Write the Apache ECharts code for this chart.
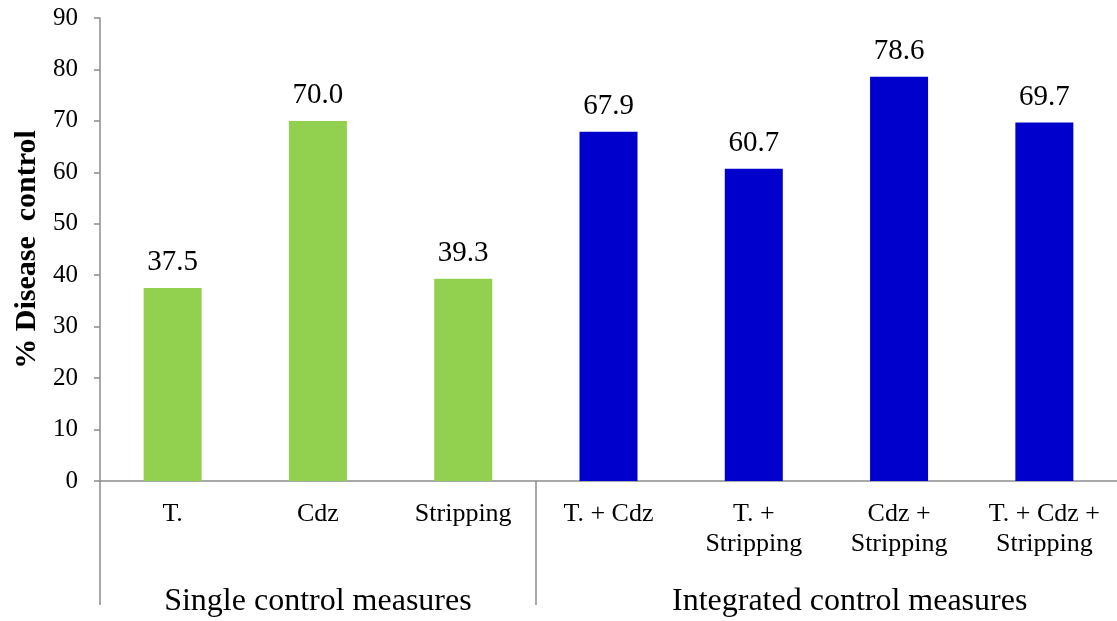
<!DOCTYPE html>
<html>
<head>
<meta charset="utf-8">
<script src="https://cdn.jsdelivr.net/npm/echarts@6/dist/echarts.min.js"></script>
<style>
  html, body { margin: 0; padding: 0; background: #ffffff; }
  #chart { width: 1117px; height: 621px; }
</style>
</head>
<body>
<div id="chart"></div>
<script>
// Treatments, grouped into single and integrated measures
const categories = ['T.', 'Cdz', 'Stripping', 'T. + Cdz', 'T. +\nStripping', 'Cdz +\nStripping', 'T. + Cdz +\nStripping'];
const diseaseControl = [37.5, 70.0, 39.3, 67.9, 60.7, 78.6, 69.7];
const groupNames = ['Single control measures', 'Integrated control measures'];
const groupSizes = [3, 4];
const yTicks = [0, 10, 20, 30, 40, 50, 60, 70, 80, 90];

const groupColors = ['#92D050', '#0000CC'];
const axisGrey = '#8c8c8c';
const font = '"Liberation Serif", "DejaVu Serif", serif';

// group boundaries and centres on a 0..N value scale aligned with the categories
const boundaries = [0];
groupSizes.forEach(n => boundaries.push(boundaries[boundaries.length - 1] + n));
const centres = groupSizes.map((n, i) => boundaries[i] + n / 2);
centres[1] += 0.16;
const groupOf = idx => { let g = 0; while (idx >= boundaries[g + 1]) g++; return g; };

const chart = echarts.init(document.getElementById('chart'), null, { renderer: 'canvas' });
chart.setOption({
  animation: false,
  textStyle: { fontFamily: font },
  grid: { left: 100, right: 0, top: 18, bottom: 140, containLabel: false },
  xAxis: [
    {
      type: 'category',
      data: categories,
      axisLine: { lineStyle: { color: axisGrey, width: 1.5 } },
      axisTick: { show: false },
      axisLabel: { interval: 0, color: '#000', fontSize: 26, fontFamily: font, margin: 18, lineHeight: 30 }
    },
    {
      type: 'value',
      min: 0,
      max: categories.length,
      position: 'bottom',
      axisLine: { show: false },
      splitLine: { show: false },
      axisTick: { show: true, customValues: boundaries.slice(0, -1), length: 124, inside: false,
                  lineStyle: { color: axisGrey, width: 1.5 } },
      axisLabel: {
        customValues: centres,
        formatter: v => { const i = centres.findIndex(c => Math.abs(c - v) < 1e-6); return i >= 0 ? groupNames[i] : ''; },
        color: '#000', fontSize: 32, fontFamily: font, margin: 105
      }
    }
  ],
  yAxis: {
    type: 'value',
    min: 0,
    max: 90,
    interval: 10,
    name: '% Disease  control',
    nameLocation: 'middle',
    nameGap: 56,
    nameRotate: 90,
    nameTextStyle: { color: '#000', fontSize: 30, fontWeight: 'bold', fontFamily: font },
    axisLine: { show: true, lineStyle: { color: axisGrey, width: 1.5 } },
    axisTick: { show: true, length: 6, lineStyle: { color: axisGrey, width: 1.5 } },
    splitLine: { show: false },
    axisLabel: { color: '#000', fontSize: 25, fontFamily: font, margin: 22,
                 customValues: yTicks }
  },
  series: [{
    type: 'bar',
    xAxisIndex: 0,
    data: diseaseControl,
    barWidth: 58,
    itemStyle: { color: p => groupColors[groupOf(p.dataIndex)] },
    label: {
      show: true,
      position: 'top',
      distance: 11,
      color: '#000',
      fontSize: 29,
      fontFamily: font,
      formatter: p => p.value.toFixed(1)
    }
  }]
});
</script>
</body>
</html>
